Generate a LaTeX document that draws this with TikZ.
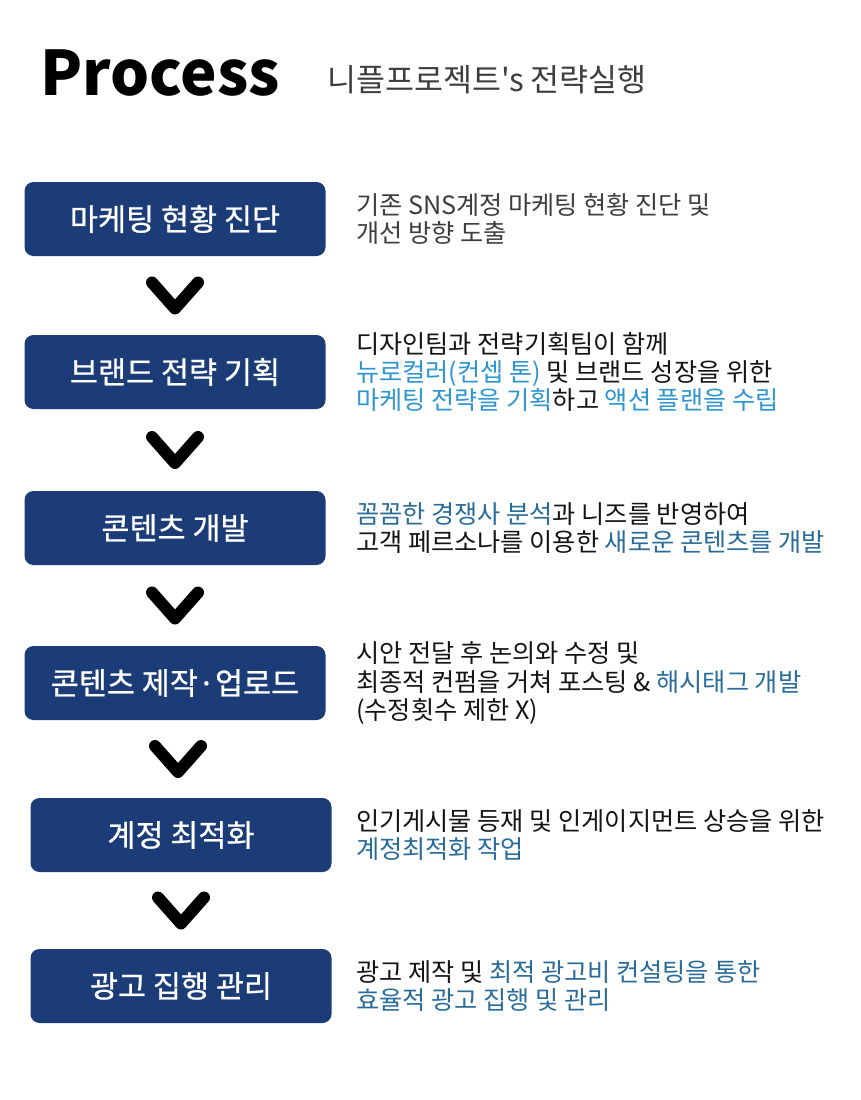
\documentclass[tikz,border=0pt]{standalone}
\usepackage{fontspec}
\usepackage{tikz}
\usetikzlibrary{positioning, calc}
\setmainfont{Noto Sans CJK KR}
\newfontfamily\plainkr{Noto Sans CJK KR}
\newfontfamily\boxkr{Noto Sans CJK KR}[FakeBold=0.8]
\definecolor{BoxNavy}{HTML}{1B3C77}
\definecolor{SkyBlue}{HTML}{2E95D1}
\definecolor{SteelBlue}{HTML}{2A6C99}
\definecolor{SoftGray}{HTML}{3E3E3E}
\definecolor{InkBlack}{HTML}{141414}
\newcommand{\sky}[1]{\textcolor{SkyBlue}{#1}}
\newcommand{\steel}[1]{\textcolor{SteelBlue}{#1}}

\begin{document}
\begin{tikzpicture}[x=1pt, y=-1pt,
    stepbox/.style={fill=BoxNavy, rounded corners=9pt, minimum width=301pt, minimum height=74pt,
        text=white, inner sep=0pt, font=\boxkr\fontsize{30.5}{32}\selectfont},
    desc/.style={anchor=west, align=left, text=InkBlack, inner sep=0pt,
        font=\fontsize{25.2}{28.2}\selectfont},
    chevron/.style={line width=12pt, line cap=round, line join=round}]
    \useasboundingbox[fill=white] (0,0) rectangle (860,1100);

    % Heading
    \node[anchor=base west, inner sep=0pt, text=black, font=\fontsize{61.5}{62}\selectfont\bfseries] (title) at (40,95) {Process};
    \node[anchor=base west, inner sep=0pt, text=SoftGray, font=\plainkr\fontsize{31.5}{32}\selectfont] (subtitle) at (327,91) {니플프로젝트's 전략실행};

    % Process steps
    \foreach \n/\x/\y/\txt in {b1/175/219/마케팅 현황 진단, b2/175/372/브랜드 전략 기획,
            b3/175/528/콘텐츠 개발, b4/175/683/콘텐츠 제작·업로드,
            b5/181/835/계정 최적화, b6/181/986/광고 집행 관리} {
        \node[stepbox] (\n) at (\x,\y) {\txt};
    }

    % Chevrons between the steps
    \foreach \a/\b in {b1/b2, b2/b3, b3/b4, b4/b5, b5/b6} {
        \coordinate (m) at ($(\a.south)!0.5!(\b.north)$);
        \draw[chevron] ([xshift=-23pt, yshift=13pt]m) -- ([yshift=-13pt]m) -- ([xshift=23pt, yshift=13pt]m);
    }

    % Descriptions
    \node[desc, text=SoftGray] (t1) at (356,0 |- b1) {기존 SNS계정 마케팅 현황 진단 및\\개선 방향 도출};
    \node[desc] (t2) at (356,0 |- b2) {디자인팀과 전략기획팀이 함께\\\sky{뉴로컬러(컨셉 톤)} 및 브랜드 성장을 위한\\\sky{마케팅 전략을 기획}하고 \sky{액션 플랜을 수립}};
    \node[desc] (t3) at (356,0 |- b3) {\steel{꼼꼼한 경쟁사 분석}과 니즈를 반영하여\\고객 페르소나를 이용한 \steel{새로운 콘텐츠를 개발}};
    \node[desc] (t4) at (356,0 |- b4) {시안 전달 후 논의와 수정 및\\최종적 컨펌을 거쳐 포스팅 \& \steel{해시태그 개발}\\(수정횟수 제한 X)};
    \node[desc] (t5) at (356,0 |- b5) {인기게시물 등재 및 인게이지먼트 상승을 위한\\\steel{계정최적화 작업}};
    \node[desc] (t6) at (356,0 |- b6) {광고 제작 및 \steel{최적 광고비 컨설팅을 통한}\\\steel{효율적 광고 집행 및 관리}};
\end{tikzpicture}
\end{document}
